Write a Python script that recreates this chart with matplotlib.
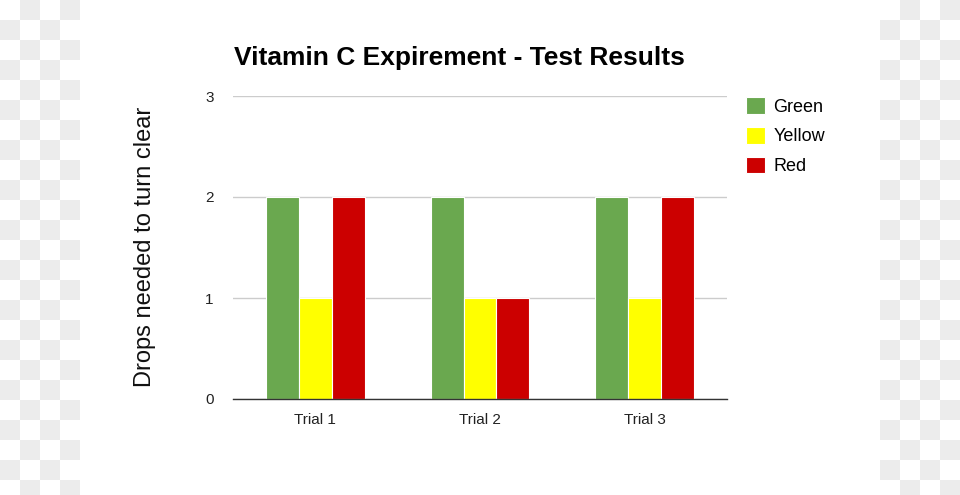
import matplotlib
matplotlib.use("Agg")
import matplotlib.pyplot as plt
from matplotlib.patches import Rectangle
import numpy as np

plt.rcParams['font.family'] = ['Liberation Sans', 'DejaVu Sans']

categories = ["Trial 1", "Trial 2", "Trial 3"]
series_names = ["Green", "Yellow", "Red"]
green = [2, 2, 2]
yellow = [1, 1, 1]
red = [2, 1, 2]
colors = ["#6aa84f", "#ffff00", "#cc0000"]
yticks = [0, 1, 2, 3]

W, H = 960, 495
fig = plt.figure(figsize=(W / 100, H / 100), dpi=100)
fig.patch.set_facecolor("white")

# checkerboard (transparent placeholder) on both sides
sq = 20
for x0, x1 in [(0, 80), (880, 960)]:
    for r in range(0, (H // sq) + 1):
        for c in range(x0 // sq, x1 // sq):
            if (r + c) % 2 == 1:
                y_top = r * sq
                fig.add_artist(Rectangle((c * sq / W, 1 - min(y_top + sq, H) / H),
                                         sq / W, (min(y_top + sq, H) - y_top) / H,
                                         transform=fig.transFigure, facecolor="#ececec",
                                         edgecolor="none", zorder=0))

ax = fig.add_axes([233 / W, 1 - 399 / H, 494 / W, 303 / H])
ax.set_facecolor("none")
x = np.arange(len(categories))
bw = 0.2
for i, (vals, col, name) in enumerate(zip([green, yellow, red], colors, series_names)):
    ax.bar(x + (i - 1) * bw, vals, width=bw, color=col, edgecolor="white",
           linewidth=0.8, label=name, zorder=3)

ax.set_xlim(-0.5, 2.5)
ax.set_ylim(0, 3)
ax.set_yticks(yticks)
ax.set_xticks(x)
ax.set_xticklabels(categories)
ax.grid(axis="y", color="#cccccc", linewidth=1, zorder=0)
for s in ["top", "right", "left"]:
    ax.spines[s].set_visible(False)
ax.spines["bottom"].set_color("#333333")
ax.spines["bottom"].set_linewidth(1)
ax.spines["bottom"].set_zorder(4)
ax.tick_params(axis="both", length=0, labelsize=11, colors="#222222")
ax.tick_params(axis="y", pad=14)
ax.tick_params(axis="x", pad=10)

fig.text(234 / W, 1 - 58 / H, "Vitamin C Expirement - Test Results", fontsize=19,
         fontweight="bold", ha="left", va="center", color="black")
fig.text(145 / W, 1 - 247 / H, "Drops needed to turn clear", fontsize=17,
         rotation=90, ha="center", va="center", color="#111111")

leg = ax.legend(loc="upper left", bbox_to_anchor=(739 / W, 1 - 90 / H),
                bbox_transform=fig.transFigure, frameon=False, fontsize=13,
                handlelength=1.05, handleheight=1.05, handletextpad=0.45,
                labelspacing=0.62, borderaxespad=0)

fig.savefig("out.png", dpi=100)
